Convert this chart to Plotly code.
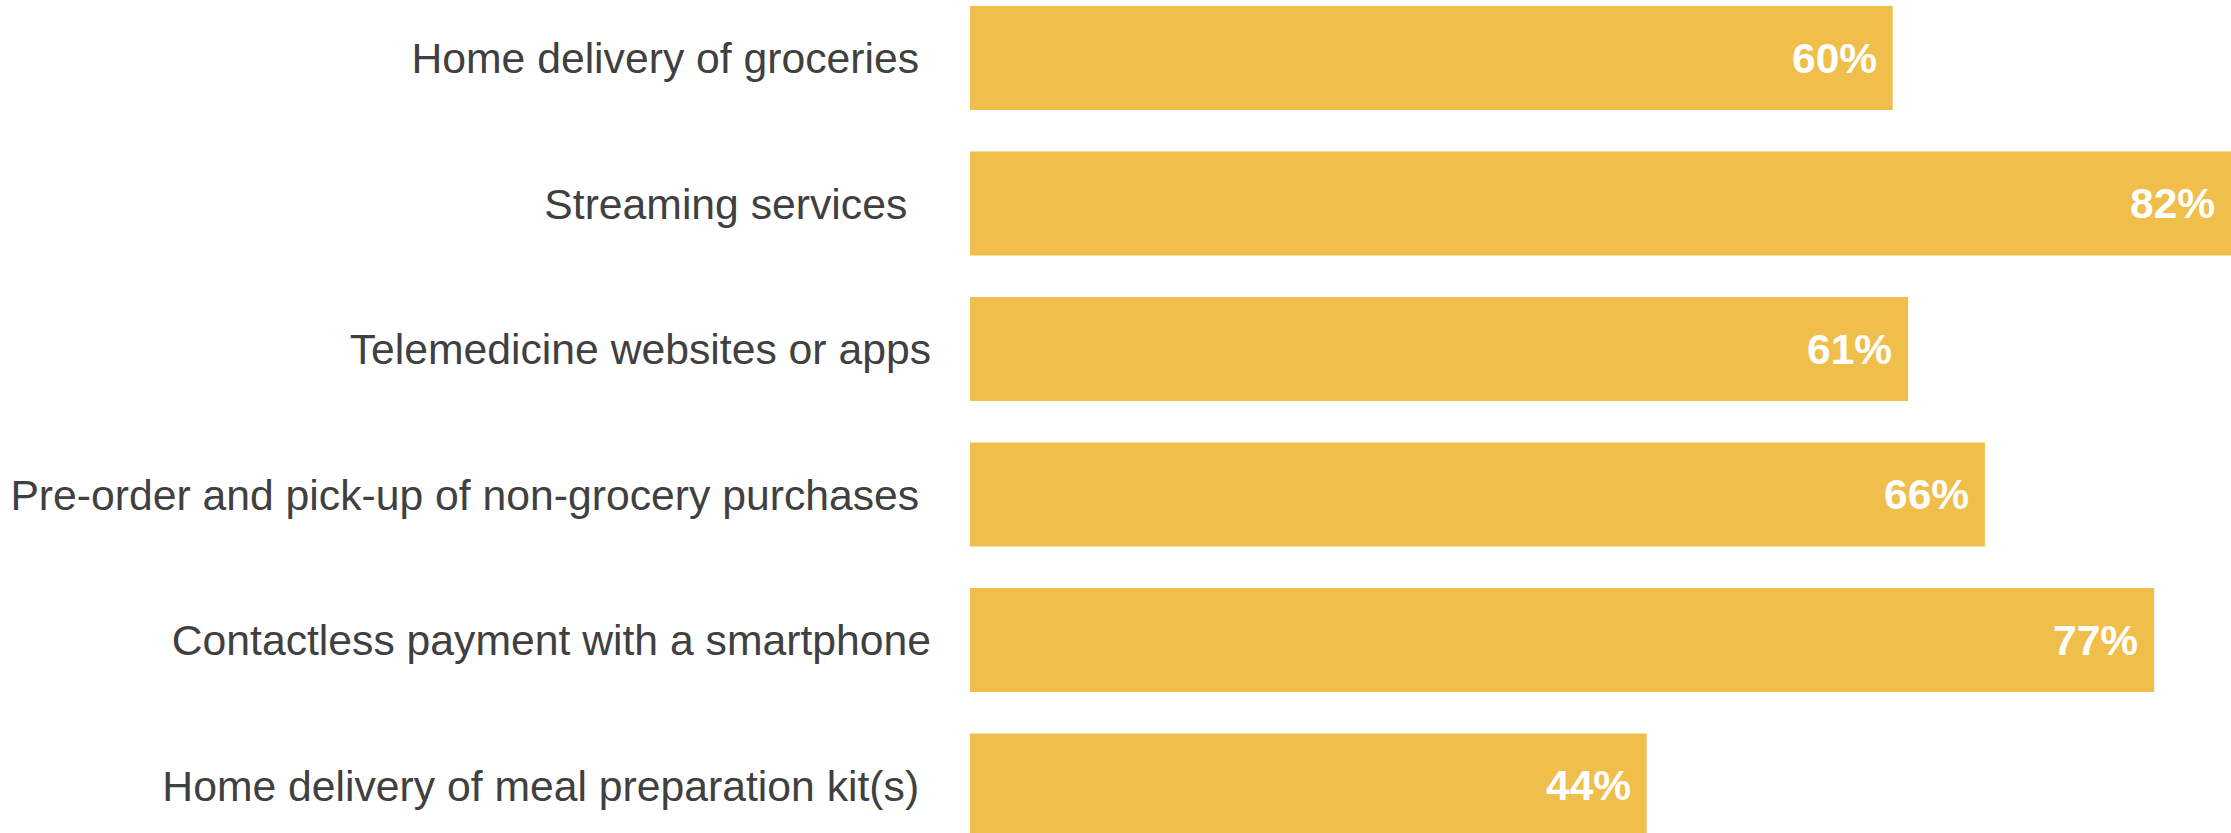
import plotly.graph_objects as go

categories = [
    "Home delivery of groceries",
    "Streaming services",
    "Telemedicine websites or apps",
    "Pre-order and pick-up of non-grocery purchases",
    "Contactless payment with a smartphone",
    "Home delivery of meal preparation kit(s)",
]
# trailing (non-breaking) spaces carried over from the source labels
label_padding = [1, 2, 0, 1, 0, 1]
shares = [60, 82, 61, 66, 77, 44]

FONT = "Liberation Sans"
tick_text = [c + "\u00a0" * n for c, n in zip(categories, label_padding)]

fig = go.Figure(
    go.Bar(
        x=shares,
        y=categories,
        orientation="h",
        marker=dict(color="#F0BE4A", line=dict(width=0)),
        width=0.715,
        hoverinfo="x+y",
    )
)

# value labels, right-aligned just inside each bar end
for cat, v in zip(categories, shares):
    fig.add_annotation(
        x=v,
        y=cat,
        text=f"{v}%",
        xanchor="right",
        yanchor="middle",
        xshift=-14,
        showarrow=False,
        font=dict(family=FONT, size=42.5, color="white", weight="bold"),
    )

fig.update_layout(
    width=2231,
    height=833,
    margin=dict(l=970, r=0, t=0, b=0),
    paper_bgcolor="white",
    plot_bgcolor="white",
    showlegend=False,
    font=dict(family=FONT, size=42.7, color="#404040"),
)
fig.update_xaxes(range=[0, 82], visible=False, fixedrange=True)
fig.update_yaxes(
    categoryorder="array",
    categoryarray=categories,
    tickmode="array",
    tickvals=categories,
    ticktext=tick_text,
    range=[5.326, -0.399],
    showgrid=False,
    zeroline=False,
    showline=False,
    ticks="",
    ticklabelstandoff=38,
    tickfont=dict(family=FONT, size=42.7, color="#404040"),
)

fig.write_html("out.html")
